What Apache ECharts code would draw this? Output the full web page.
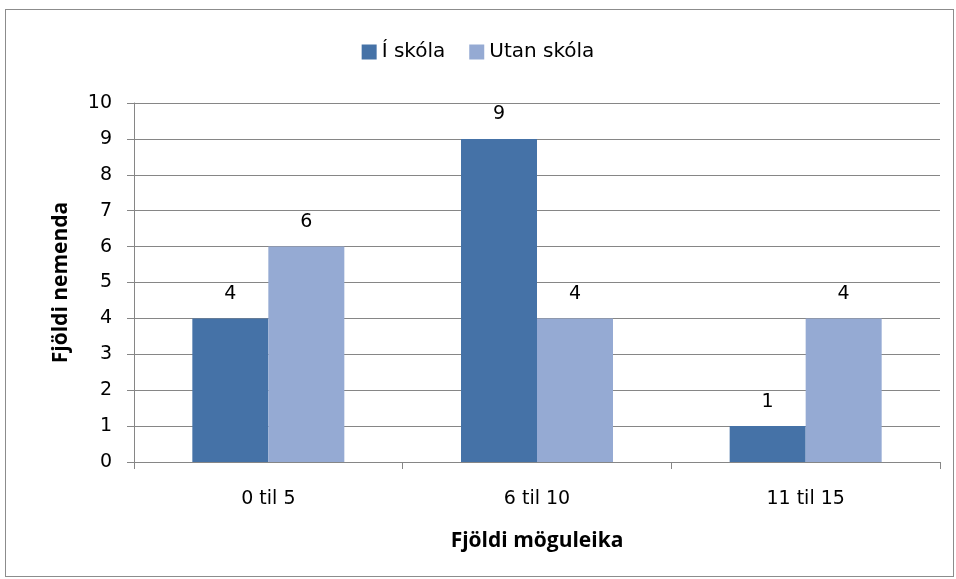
<!DOCTYPE html>
<html>
<head>
<meta charset="utf-8">
<script src="https://cdn.jsdelivr.net/npm/echarts@6/dist/echarts.min.js"></script>
<style>
  html, body { margin: 0; padding: 0; background: #fff; }
  #frame { position: absolute; left: 5px; top: 9px; width: 949px; height: 568px; border: 1px solid #8c8c8c; box-sizing: border-box; }
  #chart { position: absolute; left: 0; top: 0; width: 956px; height: 579px; }
</style>
</head>
<body>
<div id="frame"></div>
<div id="chart"></div>
<script>
// flokkar (x-ás)
const categories = ['0 til 5', '6 til 10', '11 til 15']
// fjöldi nemenda
const iSkola = [4, 9, 1]
const utanSkola = [6, 4, 4]

const FONT = '"DejaVu Sans", sans-serif'
const BOLD_FONT = '"Open Sans", sans-serif'
const AXIS_GRAY = '#868686'

const chart = echarts.init(document.getElementById('chart'), null, { renderer: 'canvas' })

const labelStyle = {
  show: true,
  position: 'top',
  distance: 15,
  color: '#000',
  fontFamily: FONT,
  fontSize: 19
}

const option = {
  animation: false,
  textStyle: { fontFamily: FONT },
  legend: {
    top: 37,
    left: 'center',
    itemWidth: 15,
    itemHeight: 15,
    itemGap: 24,
    icon: 'rect',
    textStyle: { fontFamily: FONT, fontSize: 20, color: '#000' },
    data: ['Í skóla', 'Utan skóla']
  },
  grid: {
    left: 134,
    right: 16,
    top: 103,
    bottom: 117,
    containLabel: false
  },
  xAxis: {
    type: 'category',
    data: categories,
    name: 'Fjöldi möguleika',
    nameLocation: 'middle',
    nameGap: 69,
    nameTextStyle: { fontFamily: BOLD_FONT, fontSize: 21, fontWeight: 'bold', color: '#000' },
    axisLine: { lineStyle: { color: AXIS_GRAY, width: 1 } },
    axisTick: { show: true, length: 7, lineStyle: { color: AXIS_GRAY } },
    axisLabel: { fontFamily: FONT, fontSize: 19, color: '#000', margin: 28 }
  },
  yAxis: {
    type: 'value',
    min: 0,
    max: 10,
    interval: 1,
    name: 'Fjöldi nemenda',
    nameLocation: 'middle',
    nameGap: 62,
    nameTextStyle: { fontFamily: BOLD_FONT, fontSize: 21, fontWeight: 'bold', color: '#000' },
    axisLine: { show: true, lineStyle: { color: AXIS_GRAY, width: 1 } },
    axisTick: { show: true, length: 7, lineStyle: { color: AXIS_GRAY } },
    axisLabel: { fontFamily: FONT, fontSize: 19, color: '#000', margin: 22 },
    splitLine: { show: true, lineStyle: { color: AXIS_GRAY, width: 1 } }
  },
  series: [
    {
      name: 'Í skóla',
      type: 'bar',
      data: iSkola,
      barWidth: 76,
      barGap: '0%',
      itemStyle: { color: '#4572A7' },
      label: labelStyle
    },
    {
      name: 'Utan skóla',
      type: 'bar',
      data: utanSkola,
      barWidth: 76,
      barGap: '0%',
      itemStyle: { color: '#95AAD3' },
      label: labelStyle
    }
  ]
}

chart.setOption(option)
</script>
</body>
</html>
